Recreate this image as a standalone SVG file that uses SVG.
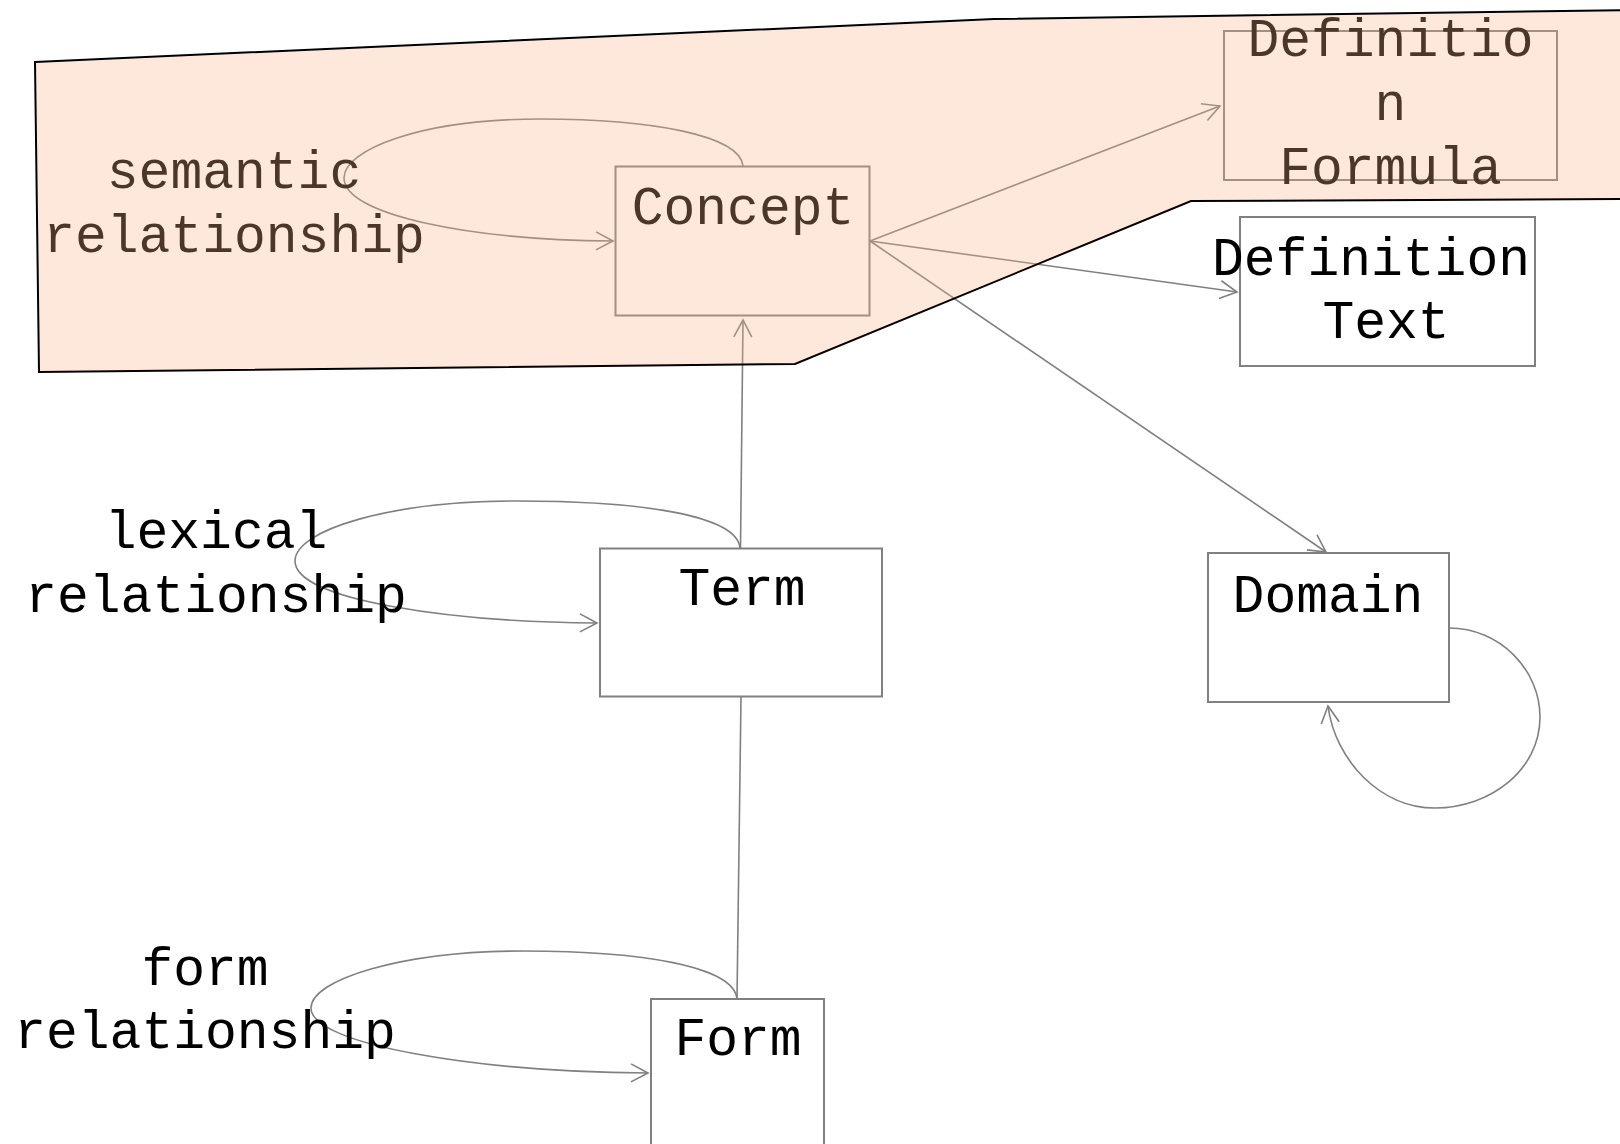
<svg xmlns="http://www.w3.org/2000/svg" width="1620" height="1144" viewBox="0 0 1620 1144">
  <style>
    .box { fill: #ffffff; stroke: #808080; stroke-width: 2; }
    .lbl { font-family: "Liberation Mono", "Courier New", monospace; font-size: 53px; fill: #000000; text-anchor: middle; }
    .edge { fill: none; stroke: #808080; stroke-width: 1.6; }
    .arrow { marker-end: url(#open-arrow); }
    .pane { fill: rgb(252,177,136); fill-opacity: 0.3; stroke: #000000; stroke-width: 2; stroke-linejoin: miter; }
  </style>
  <defs>
    <marker id="open-arrow" viewBox="0 0 20 22" refX="18" refY="11" markerWidth="20" markerHeight="22" markerUnits="userSpaceOnUse" orient="auto">
      <path d="M1,2 L18,11 L1,20" fill="none" stroke="#808080" stroke-width="1.6"/>
    </marker>
  </defs>

  <rect width="1620" height="1144" fill="#ffffff"/>

  <!-- nodes -->
  <g id="concept">
    <rect class="box" x="615.5" y="166.5" width="254" height="149"/>
    <text class="lbl" x="743" y="224">Concept</text>
  </g>
  <g id="definition-formula">
    <rect class="box" x="1224" y="31" width="333" height="149"/>
    <text class="lbl" x="1390.5" y="56">Definitio</text>
    <text class="lbl" x="1390.5" y="120">n</text>
    <text class="lbl" x="1390.5" y="184">Formula</text>
  </g>
  <g id="definition-text">
    <rect class="box" x="1240" y="217" width="295" height="149"/>
    <text class="lbl" x="1371" y="275">Definition</text>
    <text class="lbl" x="1386" y="338">Text</text>
  </g>
  <g id="domain">
    <rect class="box" x="1208" y="553" width="241" height="149"/>
    <text class="lbl" x="1328" y="612">Domain</text>
  </g>
  <g id="term">
    <rect class="box" x="600" y="548.5" width="282" height="148"/>
    <text class="lbl" x="742" y="605">Term</text>
  </g>
  <g id="form">
    <rect class="box" x="651" y="999" width="173" height="160"/>
    <text class="lbl" x="738" y="1055">Form</text>
  </g>

  <!-- connectors -->
  <g id="connectors">
    <path class="edge arrow" d="M743,166 C740,135 650,119 540,119 C420,119 344,150 344,178 C344,215 470,240 613,241"/>
    <path class="edge arrow" d="M740,548 C737,515 640,501 517,501 C390,501 295,530 295,561 C295,600 450,622 597,623"/>
    <path class="edge arrow" d="M737,999 C734,966 640,951 524,951 C400,951 311,980 311,1008 C311,1045 480,1072 648,1073"/>
    <path class="edge arrow" d="M1449,628 C1500,628 1540,670 1540,717 C1540,770 1490,808 1435,808 C1380,808 1335,760 1328,706"/>
    <path class="edge arrow" d="M740.5,548 L743,320"/>
    <path class="edge" d="M741,697 L737,999"/>
    <path class="edge arrow" d="M870,241 L1220,106"/>
    <path class="edge arrow" d="M870,241 L1237,292"/>
    <path class="edge arrow" d="M870,241 L1326,552"/>
  </g>

  <!-- edge labels -->
  <g id="labels">
    <text class="lbl" x="234" y="188">semantic</text>
    <text class="lbl" x="234" y="252">relationship</text>
    <text class="lbl" x="216" y="548">lexical</text>
    <text class="lbl" x="216" y="612">relationship</text>
    <text class="lbl" x="205" y="985">form</text>
    <text class="lbl" x="205" y="1048">relationship</text>
  </g>

  <!-- tinted pane laid over the concept area -->
  <g id="concept-pane">
    <polygon class="pane" points="35,62 994,19 1630,10 1630,199 1191,201 795,364 39,372"/>
  </g>
</svg>
